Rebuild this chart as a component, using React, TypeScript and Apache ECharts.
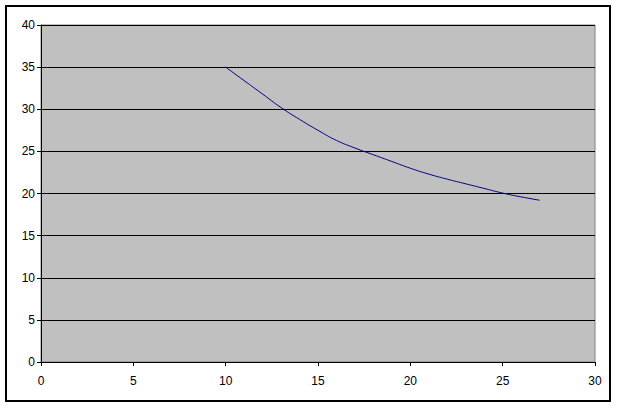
import React, { useEffect, useRef } from "react";
import * as echarts from "echarts";

const xValues = [10, 11, 12, 13, 14, 15, 16, 17, 18, 19, 20, 21, 22, 23, 24, 25, 26, 27];
const yValues = [35, 33.4, 31.8, 30.2, 28.8, 27.5, 26.3, 25.4, 24.6, 23.8, 23.0, 22.3, 21.7, 21.15, 20.6, 20.05, 19.6, 19.2];

const FONT = "'Liberation Sans', Arial, sans-serif";

export default function App() {
  const ref = useRef<HTMLDivElement>(null);
  useEffect(() => {
    if (!ref.current) return;
    const chart = echarts.init(ref.current, null, { renderer: "svg" });
    chart.setOption({
      animation: false,
      backgroundColor: "#ffffff",
      grid: {
        left: 41,
        top: 25,
        right: 24,
        bottom: 46,
        show: true,
        backgroundColor: "#C0C0C0",
        borderColor: "#808080",
        borderWidth: 1,
      },
      xAxis: {
        type: "value",
        min: 0,
        max: 30,
        interval: 5,
        axisLine: { show: true, onZero: false, lineStyle: { color: "#000000", width: 1 } },
        axisTick: { show: true, length: 4, lineStyle: { color: "#000000" } },
        axisLabel: { color: "#000000", fontSize: 12, fontFamily: FONT, margin: 13 },
        splitLine: { show: false },
      },
      yAxis: {
        type: "value",
        min: 0,
        max: 40,
        interval: 5,
        axisLine: { show: true, onZero: false, lineStyle: { color: "#000000", width: 1 } },
        axisTick: { show: true, length: 4, lineStyle: { color: "#000000" } },
        axisLabel: { color: "#000000", fontSize: 12, fontFamily: FONT, margin: 6 },
        splitLine: { show: true, lineStyle: { color: "#000000", width: 1 } },
      },
      series: [
        {
          type: "line",
          data: xValues.map((x, i) => [x, yValues[i]]),
          showSymbol: false,
          smooth: 0.5,
          lineStyle: { color: "#000080", width: 1 },
        },
      ],
      graphic: [
        {
          type: "rect",
          shape: { x: 6, y: 6, width: 604, height: 395 },
          style: { fill: "none", stroke: "#000000", lineWidth: 2 },
          silent: true,
        },
      ],
    });
    return () => chart.dispose();
  }, []);
  return (
    <div
      ref={ref}
      style={{ position: "fixed", left: 0, top: 0, width: 619, height: 408 }}
    />
  );
}
